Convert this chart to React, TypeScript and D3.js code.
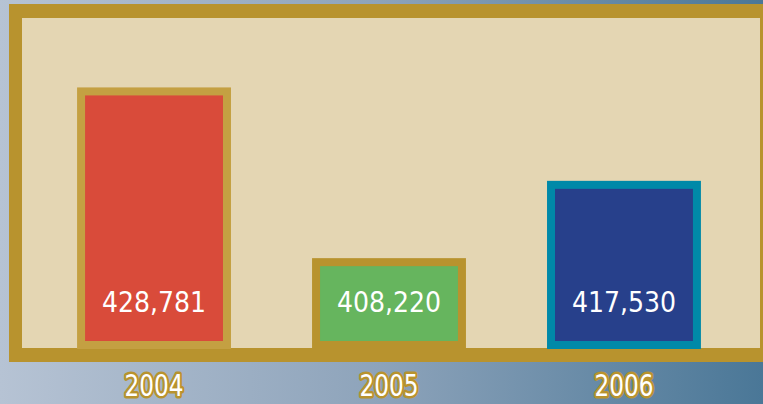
import * as d3 from 'd3';
import { useEffect } from 'react';

const years = ['2004', '2005', '2006'];
const visitors = [428781, 408220, 417530];
const valueLabels = ['428,781', '408,220', '417,530'];
const fillColors = ['#d94b3a', '#66b55e', '#27408b'];
const edgeColors = ['#c4a042', '#b8932e', '#0089a8'];

const width = 763;
const height = 404;
const gold = '#b8932e';
const frame = { left: 9, top: 4, right: 763, bottom: 362 };
const panel = { left: 22, top: 18, right: 760, bottom: 348 };
const baseline = 349;
const edge = 8;

const App = () => {
  useEffect(() => {
    document.body.style.margin = '0';
  }, []);

  const x = d3.scaleBand<string>()
    .domain(years)
    .range([0, 778])
    .paddingInner(0.345)
    .paddingOuter(0.328);
  const y = d3.scaleLinear()
    .domain([397278, 437143])
    .range([baseline, panel.top]);

  return (
    <svg width={width} height={height} viewBox={`0 0 ${width} ${height}`}
      style={{ display: 'block', position: 'absolute', left: 0, top: 0 }}>
      <defs>
        <linearGradient id="bg" x1="0" x2="1" y1="0" y2="0">
          <stop offset="0" stopColor="#b6c3d4" />
          <stop offset="0.5" stopColor="#8da3ba" />
          <stop offset="1" stopColor="#4a7797" />
        </linearGradient>
      </defs>
      <rect x={0} y={0} width={width} height={height} fill="url(#bg)" />
      <rect x={frame.left} y={frame.top} width={frame.right - frame.left}
        height={frame.bottom - frame.top} fill={gold} />
      <rect x={panel.left} y={panel.top} width={panel.right - panel.left}
        height={panel.bottom - panel.top} fill="#e4d6b3" />
      {years.map((yr, i) => {
        const x0 = x(yr) as number;
        const w = x.bandwidth();
        const cx = x0 + w / 2;
        const top = y(visitors[i]);
        return (
          <g key={yr}>
            <rect x={x0} y={top} width={w} height={baseline - top} fill={edgeColors[i]} />
            <rect x={x0 + edge} y={top + edge} width={w - 2 * edge}
              height={baseline - top - 2 * edge} fill={fillColors[i]} />
            <text x={cx} y={312} textAnchor="middle" fill="#fff"
              fontFamily="'DejaVu Sans Condensed', 'DejaVu Sans', sans-serif"
              fontStretch="condensed" fontSize={28}>
              {valueLabels[i]}
            </text>
            <text transform={`translate(${cx},396) scale(0.86,1)`} textAnchor="middle" fill="#fff"
              stroke={gold} strokeWidth={5} paintOrder="stroke" strokeLinejoin="round"
              fontFamily="'DejaVu Sans Condensed', 'DejaVu Sans', sans-serif"
              fontStretch="condensed" fontSize={30}>
              {yr}
            </text>
          </g>
        );
      })}
    </svg>
  );
};

export default App;
